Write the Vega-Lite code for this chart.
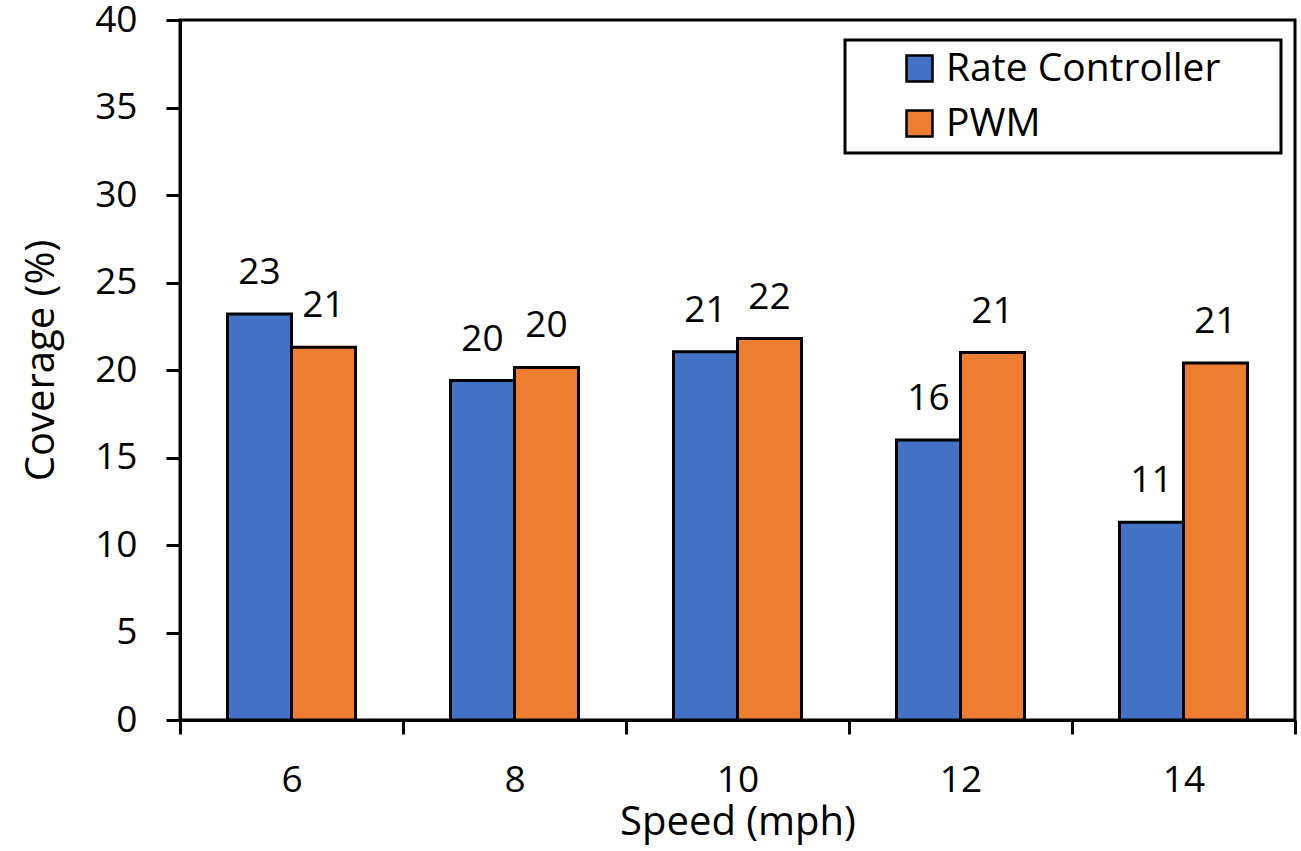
{
  "$schema": "https://vega.github.io/schema/vega-lite/v6.json",
  "width": 1115,
  "height": 700,
  "autosize": "none",
  "padding": {"left": 180, "top": 20, "right": 6, "bottom": 131},
  "background": "white",
  "config": {
    "view": {"stroke": "black", "strokeWidth": 3},
    "font": "Open Sans",
    "text": {"font": "Open Sans"}
  },
  "data": {
    "values": [
      {"speed": "6", "series": "Rate Controller", "coverage": 23.2, "label": "23"},
      {"speed": "6", "series": "PWM", "coverage": 21.3, "label": "21"},
      {"speed": "8", "series": "Rate Controller", "coverage": 19.4, "label": "20"},
      {"speed": "8", "series": "PWM", "coverage": 20.15, "label": "20"},
      {"speed": "10", "series": "Rate Controller", "coverage": 21.05, "label": "21"},
      {"speed": "10", "series": "PWM", "coverage": 21.8, "label": "22"},
      {"speed": "12", "series": "Rate Controller", "coverage": 16.0, "label": "16"},
      {"speed": "12", "series": "PWM", "coverage": 21.0, "label": "21"},
      {"speed": "14", "series": "Rate Controller", "coverage": 11.3, "label": "11"},
      {"speed": "14", "series": "PWM", "coverage": 20.4, "label": "21"}
    ]
  },
  "encoding": {
    "x": {
      "field": "speed",
      "type": "ordinal",
      "sort": ["6", "8", "10", "12", "14"],
      "scale": {"paddingInner": 0, "paddingOuter": 0},
      "axis": {
        "title": "Speed (mph)",
        "labelAngle": 0,
        "tickBand": "extent",
        "ticks": true,
        "tickSize": 14,
        "tickWidth": 3,
        "tickColor": "black",
        "domainColor": "black",
        "domainWidth": 3,
        "grid": false,
        "labelFont": "Open Sans",
        "labelFontSize": 37,
        "labelColor": "black",
        "labelPadding": 28,
        "titleFont": "Open Sans",
        "titleFontSize": 40,
        "titleFontWeight": "normal",
        "titleColor": "black",
        "titleBaseline": "alphabetic",
        "titleY": 114
      }
    },
    "xOffset": {
      "field": "series",
      "sort": ["Rate Controller", "PWM"],
      "scale": {"paddingInner": 0, "paddingOuter": 0.742}
    },
    "y": {
      "field": "coverage",
      "type": "quantitative",
      "scale": {"domain": [0, 40], "nice": false},
      "axis": {
        "title": "Coverage (%)",
        "values": [0, 5, 10, 15, 20, 25, 30, 35, 40],
        "tickSize": 14,
        "tickWidth": 3,
        "tickColor": "black",
        "domainColor": "black",
        "domainWidth": 3,
        "grid": false,
        "labelFont": "Open Sans",
        "labelFontSize": 37,
        "labelColor": "black",
        "labelPadding": 29,
        "titleFont": "Open Sans",
        "titleFontSize": 40,
        "titleFontWeight": "normal",
        "titleColor": "black",
        "titleAngle": -90,
        "titleBaseline": "alphabetic",
        "titleX": -127,
        "titleY": 340
      }
    }
  },
  "layer": [
    {
      "mark": {"type": "bar", "stroke": "black", "strokeWidth": 3},
      "encoding": {
        "color": {
          "field": "series",
          "sort": ["Rate Controller", "PWM"],
          "scale": {"domain": ["Rate Controller", "PWM"], "range": ["#4472C4", "#ED7D31"]},
          "legend": {
            "orient": "none",
            "legendX": 665,
            "legendY": 20,
            "title": " ",
            "titleOrient": "right",
            "titleFontSize": 2,
            "titlePadding": 52,
            "strokeColor": "black",
            "fillColor": "white",
            "padding": 9,
            "rowPadding": 15,
            "symbolType": "square",
            "symbolSize": 676,
            "symbolOffset": 46,
            "symbolStrokeColor": "black",
            "symbolStrokeWidth": 2.5,
            "symbolOpacity": 1,
            "labelFont": "Open Sans",
            "labelFontSize": 39,
            "labelColor": "black",
            "labelOffset": 7,
            "labelLimit": 600,
            "encode": {
              "legend": {"update": {"strokeWidth": {"value": 3}}}
            }
          }
        }
      }
    },
    {
      "mark": {"type": "text", "baseline": "alphabetic", "dy": -30, "fontSize": 37, "font": "Open Sans", "color": "black"},
      "encoding": {
        "text": {"field": "label"}
      }
    }
  ]
}
